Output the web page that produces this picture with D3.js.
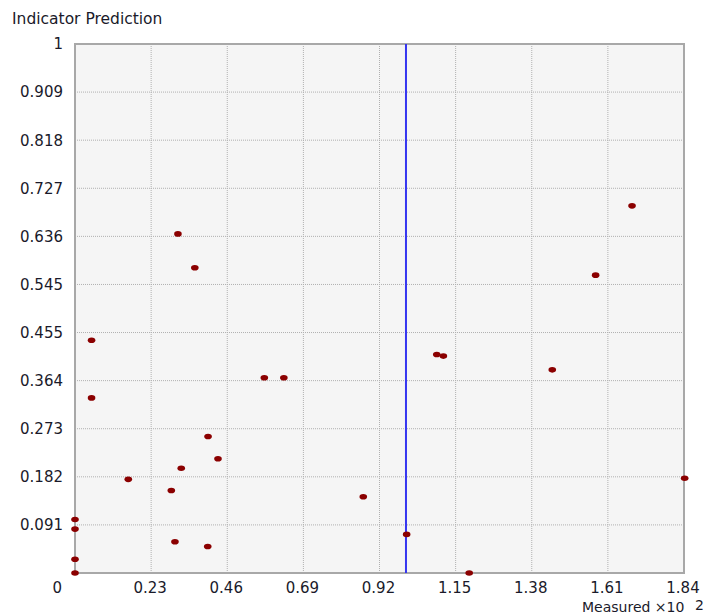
<!DOCTYPE html>
<html><head><meta charset="utf-8">
<script src="https://cdn.jsdelivr.net/npm/d3@7"></script>
<style>body{margin:0;background:#fff}svg{display:block}text{font-family:"DejaVu Sans",sans-serif;fill:#1a1a2a}</style>
</head><body><svg id="c" width="710" height="615"></svg>
<script>
const xTicks = [0.23, 0.46, 0.69, 0.92, 1.15, 1.38, 1.61, 1.84];
const xTickLabels = ["0.23","0.46","0.69","0.92","1.15","1.38","1.61","1.84"];
const yTicks = [1/11,2/11,3/11,4/11,5/11,6/11,7/11,8/11,9/11,10/11,1];
const yTickLabels = ["0.091","0.182","0.273","0.364","0.455","0.545","0.636","0.727","0.818","0.909","1"];
const measured = [0,0,0,0,0.050,0.050,0.161,0.291,0.302,0.311,0.321,0.362,0.402,0.401,0.432,0.572,0.631,0.871,1.002,1.093,1.113,1.191,1.442,1.573,1.683,1.842];
const predicted = [0.101,0.083,0.026,0,0.440,0.331,0.177,0.156,0.059,0.641,0.198,0.577,0.258,0.050,0.216,0.369,0.369,0.144,0.073,0.413,0.410,0,0.384,0.563,0.694,0.179];
const refLine = 1.0;
const title = "Indicator Prediction";
const xTitle = "Measured ×10";
const xExp = "2";

const svg = d3.select("#c");
const x = d3.scaleLinear().domain([0,1.84]).range([75,684]);
const y = d3.scaleLinear().domain([0,1]).range([573,44]);

svg.append("rect").attr("x",x(0)).attr("y",y(1)).attr("width",x(1.84)-x(0)).attr("height",y(0)-y(1)).attr("fill","#f5f5f5");

// gridlines
svg.append("g").selectAll("line").data(xTicks.slice(0,-1)).join("line")
  .attr("x1",d=>x(d)).attr("x2",d=>x(d)).attr("y1",y(1)).attr("y2",y(0))
  .attr("stroke","#b0b0b0").attr("stroke-width",1).attr("stroke-dasharray","1,1");
svg.append("g").selectAll("line").data(yTicks.slice(0,-1)).join("line")
  .attr("y1",d=>y(d)).attr("y2",d=>y(d)).attr("x1",x(0)).attr("x2",x(1.84))
  .attr("stroke","#b0b0b0").attr("stroke-width",1).attr("stroke-dasharray","1,1");

// frame
svg.append("rect").attr("x",x(0)).attr("y",y(1)).attr("width",x(1.84)-x(0)).attr("height",y(0)-y(1))
  .attr("fill","none").attr("stroke","#a8a8a8").attr("stroke-width",2);

// reference line
svg.append("line").attr("x1",x(refLine)).attr("x2",x(refLine)).attr("y1",y(1)).attr("y2",y(0))
  .attr("stroke","#3535f0").attr("stroke-width",2);

// points
svg.append("g").selectAll("ellipse").data(measured.map((m,i)=>[m,predicted[i]])).join("ellipse")
  .attr("cx",d=>x(d[0])).attr("cy",d=>y(d[1])).attr("rx",3.8).attr("ry",2.8).attr("fill","#8b0000");

// y labels
svg.append("g").selectAll("text").data(yTicks).join("text")
  .attr("x",63).attr("y",d=>y(d)).attr("dy","0.36em").attr("text-anchor","end")
  .style("font-size","15px").text((d,i)=>yTickLabels[i]);
svg.append("text").attr("x",62).attr("y",593).attr("text-anchor","end").style("font-size","15px").text("0");
// x labels
svg.append("g").selectAll("text").data(xTicks).join("text")
  .attr("x",d=>x(d)-1).attr("y",593).attr("text-anchor","middle")
  .style("font-size","15px").text((d,i)=>xTickLabels[i]);

svg.append("text").attr("x",12).attr("y",24).style("font-size","15.5px").text(title);
svg.append("text").attr("x",582).attr("y",612).style("font-size","14px").text(xTitle);
svg.append("text").attr("x",695).attr("y",610).style("font-size","14px").text(xExp);
</script></body></html>
